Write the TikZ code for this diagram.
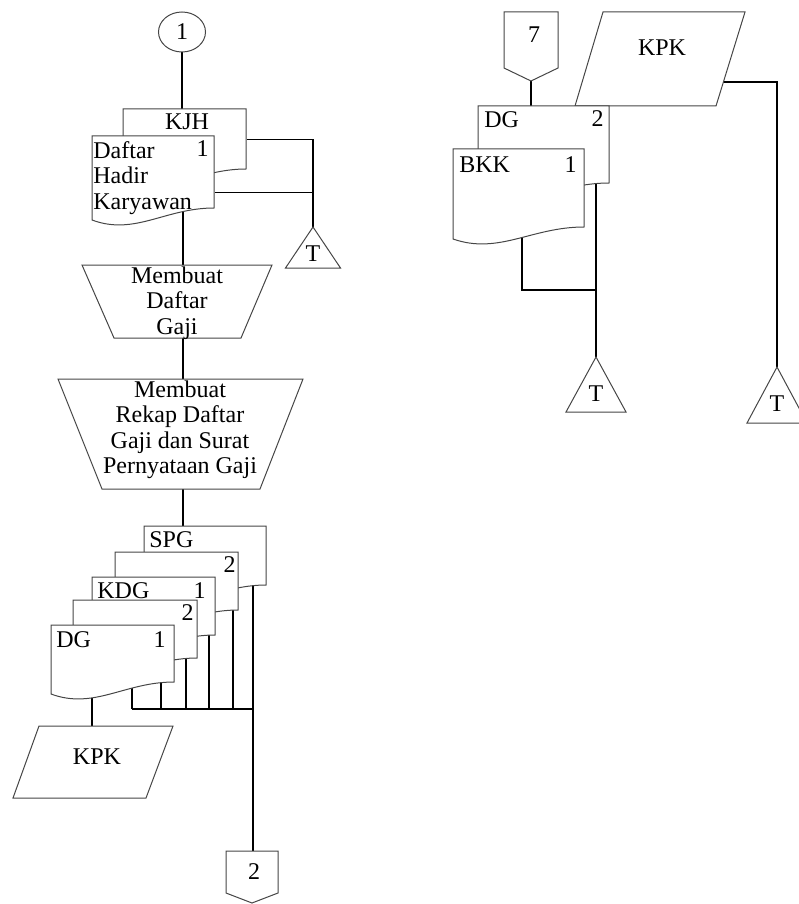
\documentclass[tikz,border=0pt]{standalone}
\usepackage{fontspec}
\setmainfont{Liberation Serif}
\usetikzlibrary{shapes.geometric,backgrounds}

\tikzset{every picture/.style={line width=0.75pt}}
\tikzset{
  shp/.style={draw={rgb, 255:red, 70; green, 70; blue, 70}, fill=white, line width=1pt},
  conn/.style={draw=black, line width=1.2pt},
  lbl/.style={inner sep=0pt},
}

% document symbol: name, x, y (top left), width, height at right edge
\newcommand{\docshape}[5]{%
  \draw[shp] (#2,#3) -- ({#2+#4},#3) -- ({#2+#4},{#3+#5})
    .. controls ({#2+0.6*#4},{#3+#5}) and ({#2+0.35*#4},{#3+#5+28}) .. (#2,{#3+#5+12}) -- cycle;
  \node[minimum width=#4pt, minimum height=#5pt, inner sep=0pt, anchor=north west] (#1) at (#2,#3) {};
}
% archive triangle: name, apex x, apex y, width, height
\newcommand{\trishape}[5]{%
  \draw[shp] (#2,#3) -- ({#2+#4/2},{#3+#5}) -- ({#2-#4/2},{#3+#5}) -- cycle;
  \coordinate (#1) at (#2,#3);
  \node[lbl] (#1-txt) at (#2,{#3+0.66*#5}) {T};
}

\begin{document}
\begin{tikzpicture}[x=1pt,y=1pt,yscale=-1,xscale=1,font=\fontsize{24}{25.5}\selectfont]
\useasboundingbox (0,0) rectangle (799,904);

%Shape: Circle
\node (con1) [draw={rgb, 255:red, 70; green, 70; blue, 70}, line width=1pt, ellipse, minimum width=47pt, minimum height=40pt, inner sep=0pt] at (182,32) {1};

%Shape: Document KJH
\docshape{kjh}{123}{109}{123}{60}
\node[lbl, anchor=base] (kjhtxt) at (187,130) {KJH};
%Shape: Document Daftar Hadir Karyawan
\docshape{dhk}{92}{136}{122}{72}
\node[lbl, anchor=north west, align=left] (dhktxt) at (93,141) {Daftar\\Hadir\\Karyawan};
\node[lbl, anchor=base east] (dhkno) at (209,157) {1};
\coordinate (dhkout) at ([yshift=-16pt]dhk.south east);

%Shape: Archive
\trishape{t1}{313}{227}{55}{41}

%Shape: Manual Operation
\draw[shp] (82,265) -- (272,265) -- (241,338) -- (114,338) -- cycle;
\node[inner sep=1pt, anchor=north, align=center] (buatdg) at (177,265) {Membuat\\Daftar\\Gaji};
\coordinate (buatdg-in) at (183,265);
\coordinate (buatdg-out) at (183,338);

%Shape: Manual Operation
\draw[shp] (58,379) -- (303,379) -- (260,489) -- (102,489) -- cycle;
\node[inner sep=1pt, anchor=north, align=center] (rekap) at (180,379) {Membuat\\Rekap Daftar\\Gaji dan Surat\\Pernyataan Gaji};
\coordinate (rekap-in) at (183,379);
\coordinate (rekap-out) at (183,489);

%Shape: Document stack
\docshape{spg}{144}{526}{122}{59}
\node[lbl, anchor=base west] (spgtxt) at (149,547) {SPG};
\docshape{d2a}{115}{552}{123}{58}
\node[lbl, anchor=base east] (d2ano) at (236,572) {2};
\docshape{kdg}{92}{577}{123}{58}
\node[lbl, anchor=base west] (kdgtxt) at (97,598) {KDG};
\node[lbl, anchor=base east] (kdgno) at (206,598) {1};
\docshape{d2b}{73}{600}{124}{58}
\node[lbl, anchor=base east] (d2bno) at (194,620) {2};
\docshape{dg}{51}{625}{123}{57}
\node[lbl, anchor=base west] (dgtxt) at (56,647) {DG};
\node[lbl, anchor=base east] (dgno) at (166,647) {1};

%Shape: Parallelogram KPK
\draw[shp] (39,726) -- (173,726) -- (146,798) -- (13,798) -- cycle;
\node[lbl] (kpka) at (97,757) {KPK};
\coordinate (kpka-in) at (92,726);

%Shape: Off-page connector
\draw[shp] (226,851) -- (278,851) -- (278,893) -- (252,903) -- (226,893) -- cycle;
\node[lbl] (off2) at (254,872) {2};
\coordinate (off2-in) at (253,851);
\coordinate (busL) at (132,709);
\coordinate (busR) at (253,709);

%Shape: Off-page connector
\draw[shp] (504,12) -- (558,12) -- (558,68) -- (531,81) -- (504,68) -- cycle;
\node[lbl] (off7) at (534,35) {7};
\coordinate (off7-out) at (531,81);

%Shape: Parallelogram KPK
\draw[shp] (603,12) -- (745,12) -- (716,106) -- (575,106) -- cycle;
\node[lbl] (kpkb) at (662,48) {KPK};
\coordinate (kpkb-out) at (723,82);

%Shape: Document DG / BKK
\docshape{dgb}{478}{106}{131}{77}
\node[lbl, anchor=base west] (dgbtxt) at (484,128) {DG};
\node[lbl, anchor=base east] (dgbno) at (604,127) {2};
\docshape{bkk}{453}{149}{131}{78}
\node[lbl, anchor=base west] (bkktxt) at (459,172) {BKK};
\node[lbl, anchor=base east] (bkkno) at (577,172) {1};
\coordinate (tjoin) at (596,290);

%Shape: Archive
\trishape{t2}{596}{357}{60}{55}
\trishape{t3}{777}{367}{60}{56}

%Connectors
\begin{scope}[on background layer]
\draw[conn] (con1.south) -- (con1 |- kjh.north);
\draw[conn] (kjh.east) -| (t1);
\draw[conn] (dhkout) -- (dhkout -| t1);
\draw[conn] (buatdg-in |- dhk.center) -- (buatdg-in);
\draw[conn] (buatdg-out) -- (rekap-in);
\draw[conn] (rekap-out) -- (rekap-out |- spg.center);
\draw[conn] (busL) -- (busR);
\draw[conn] (busR |- spg.center) -- (off2-in);
\foreach \d/\x in {dg/132,dg/161,d2b/186,kdg/209,d2a/233}
  \draw[conn] (\x,709 |- \d.center) -- (\x,709);
\draw[conn] (kpka-in |- dg.center) -- (kpka-in);
\draw[conn] (off7-out) -- (off7-out |- dgb.north);
\draw[conn] (kpkb-out) -| (t3);
\draw[conn] (522,290 |- bkk.center) |- (tjoin);
\draw[conn] (tjoin |- dgb.center) -- (t2);
\end{scope}

\end{tikzpicture}
\end{document}
